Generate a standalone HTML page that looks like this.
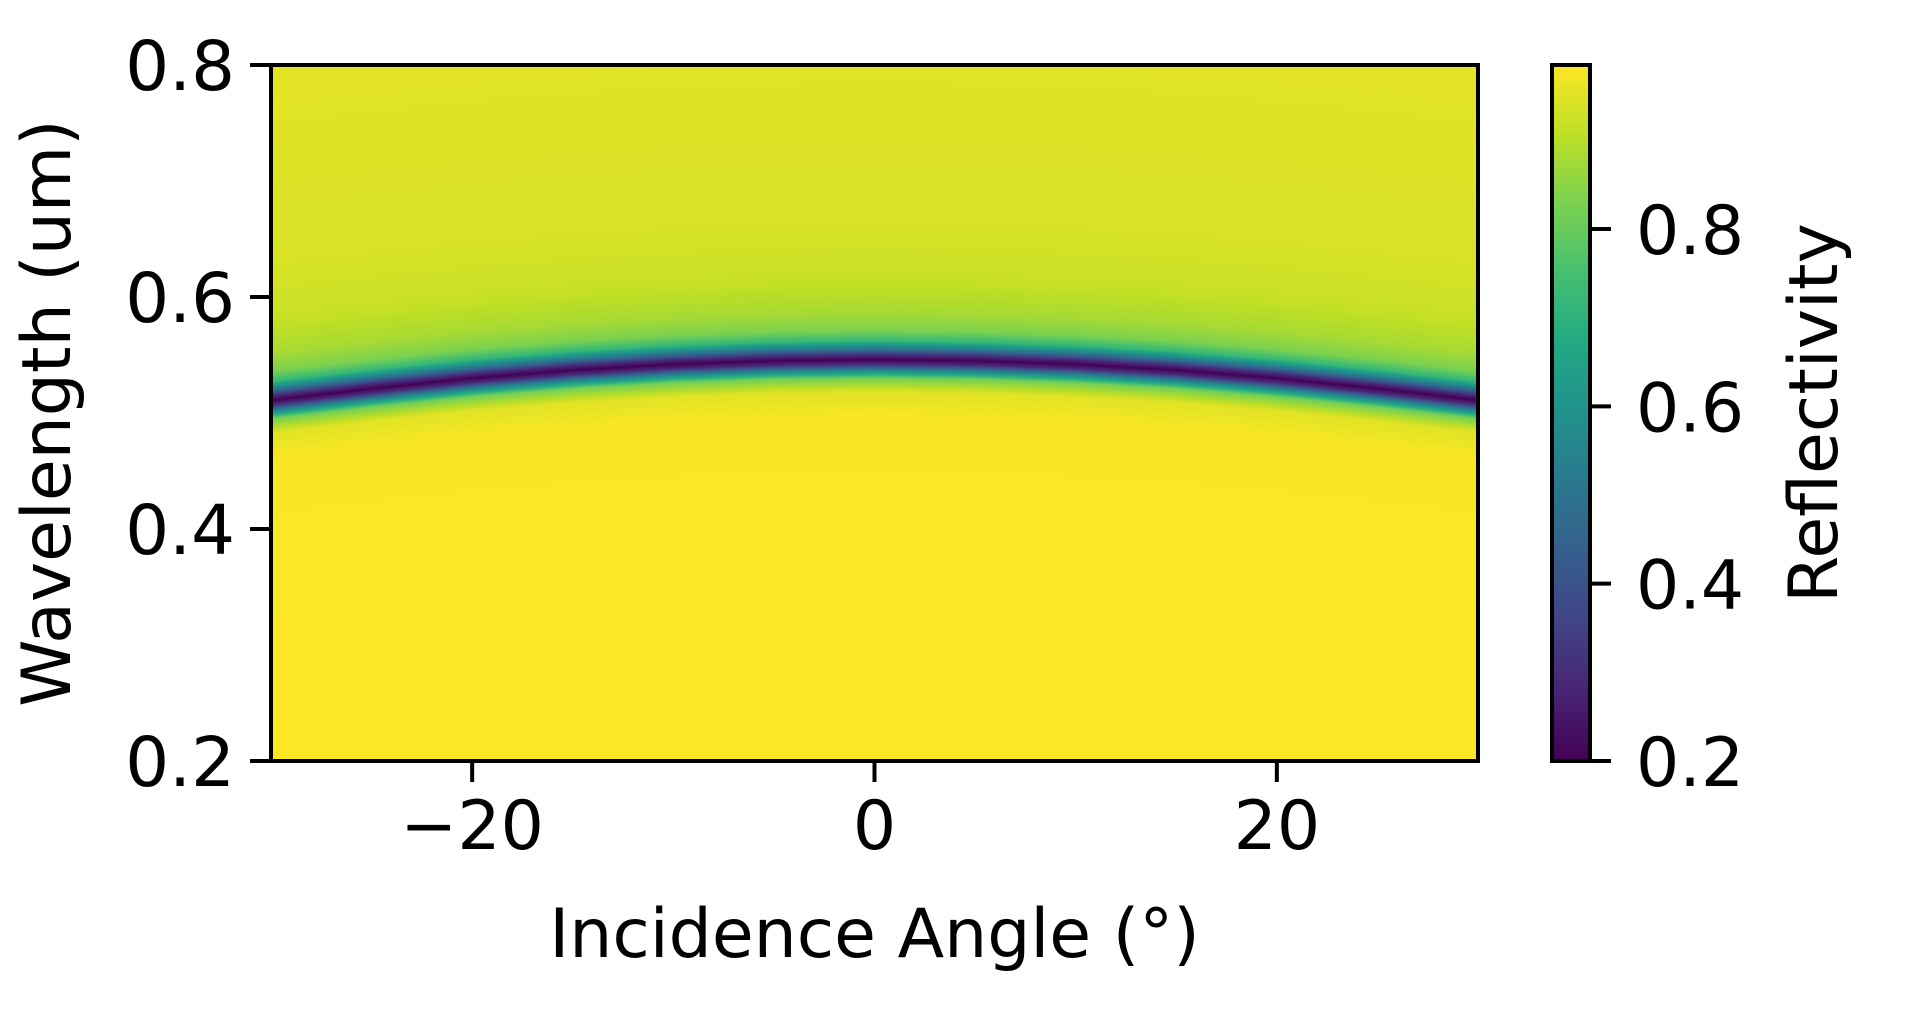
<!DOCTYPE html>
<html><head><meta charset="utf-8"><style>
html,body{margin:0;padding:0;background:#fff;}
#wrap{position:relative;width:1924px;height:1027px;overflow:hidden;font-family:"DejaVu Sans","Liberation Sans",sans-serif;}
canvas{position:absolute;}
svg{position:absolute;left:0;top:0;}
</style></head><body>
<div id="wrap">
<canvas id="heat" width="1207" height="696" style="left:271px;top:65px;width:1207px;height:696px"></canvas>
<canvas id="cbar" width="38" height="696" style="left:1552px;top:65px;width:38px;height:696px"></canvas>
<svg id="ax" width="1924" height="1027"></svg>
</div>
<script>
// ---- data ----
const angles = [-30,-25,-20,-15,-10,-5,0,5,10,15,20,25,30];
const bandCenter = [0.511,0.521,0.530,0.537,0.542,0.545,0.546,0.545,0.542,0.537,0.530,0.521,0.511];
const profileOffset = [-0.4,-0.05,-0.028,-0.016,-0.009,-0.004,0,0.004,0.009,0.016,0.025,0.04,0.07,0.12,0.3];
const profileRefl  = [0.985,0.98,0.95,0.82,0.55,0.3,0.2,0.3,0.5,0.72,0.83,0.88,0.92,0.94,0.955];
const xTicks = [-20,0,20];
const xTickLabels = ["\u221220","0","20"];
const yTicks = [0.2,0.4,0.6,0.8];
const yTickLabels = ["0.2","0.4","0.6","0.8"];
const cTicks = [0.2,0.4,0.6,0.8];
const cTickLabels = ["0.2","0.4","0.6","0.8"];
const xMin=-30,xMax=30,yMin=0.2,yMax=0.8,cMin=0.2,cMax=0.985;
// ---- geometry ----
const L=271,R=1478,T=65,B=761,CL=1552,CR=1590;
const xs=v=>L+(v-xMin)/(xMax-xMin)*(R-L);
const ys=v=>B-(v-yMin)/(yMax-yMin)*(B-T);
const cs=v=>B-(v-cMin)/(cMax-cMin)*(B-T);
const vir=["#440154","#482475","#414487","#355f8d","#2a788e","#21918c","#22a884","#44bf70","#7ad151","#bddf26","#fde725"].map(h=>[1,3,5].map(i=>parseInt(h.substr(i,2),16)));
function cmap(t){t=Math.max(0,Math.min(1,t));const p=t*10,i=Math.min(9,Math.floor(p)),f=p-i;return vir[i].map((c,k)=>Math.round(c+(vir[i+1][k]-c)*f));}
function interp(xa,ya,x){if(x<=xa[0])return ya[0];for(let i=1;i<xa.length;i++){if(x<=xa[i]){const f=(x-xa[i-1])/(xa[i]-xa[i-1]);return ya[i-1]+(ya[i]-ya[i-1])*f;}}return ya[ya.length-1];}
// heatmap
const hc=document.getElementById('heat'),hx=hc.getContext('2d'),W=hc.width,H=hc.height,img=hx.createImageData(W,H);
for(let px=0;px<W;px++){const a=xMin+(px+0.5)/W*(xMax-xMin);
 const c=interp(angles,bandCenter,a);
 for(let py=0;py<H;py++){const lam=yMax-(py+0.5)/H*(yMax-yMin);
  const r=interp(profileOffset,profileRefl,lam-c);
  const col=cmap((r-cMin)/(cMax-cMin));const o=(py*W+px)*4;
  img.data[o]=col[0];img.data[o+1]=col[1];img.data[o+2]=col[2];img.data[o+3]=255;}}
hx.putImageData(img,0,0);
// colorbar
const cc=document.getElementById('cbar'),cx=cc.getContext('2d');
for(let py=0;py<cc.height;py++){const col=cmap(1-(py+0.5)/cc.height);cx.fillStyle=`rgb(${col})`;cx.fillRect(0,py,cc.width,1);}
// axes
const svg=document.getElementById('ax'),NS="http://www.w3.org/2000/svg";
function mk(tag,at,txt){const e=document.createElementNS(NS,tag);for(const k in at)e.setAttribute(k,at[k]);if(txt!==undefined)e.textContent=txt;svg.appendChild(e);return e;}
let e;
e=mk('rect',{x:L,y:T,width:R-L,height:B-T,fill:'none',stroke:'#000','stroke-width':4});


e=mk('rect',{x:CL,y:T,width:CR-CL,height:B-T,fill:'none',stroke:'#000','stroke-width':4});


xTicks.forEach((v,i)=>{const x=xs(v);
 e=mk('line',{x1:x,x2:x,y1:B,y2:B+21,stroke:'#000','stroke-width':4});
 
 
 e=mk('text',{x:x,y:B+88,'text-anchor':'middle','font-size':68},xTickLabels[i]);
 
 });
yTicks.forEach((v,i)=>{const y=ys(v);
 e=mk('line',{x1:L-21,x2:L,y1:y,y2:y,stroke:'#000','stroke-width':4});
 
 
 e=mk('text',{x:L-36,y:y+25,'text-anchor':'end','font-size':69},yTickLabels[i]);
 
 });
cTicks.forEach((v,i)=>{const y=cs(v);
 e=mk('line',{x1:CR,x2:CR+21,y1:y,y2:y,stroke:'#000','stroke-width':4});
 
 
 e=mk('text',{x:CR+46,y:y+25,'font-size':68},cTickLabels[i]);
 
 });
e=mk('text',{x:(L+R)/2,y:957,'text-anchor':'middle','font-size':68},'Incidence Angle (°)');


e=mk('text',{x:0,y:0,'text-anchor':'middle','font-size':68,transform:`translate(70,${(T+B)/2}) rotate(-90)`},'Wavelength (um)');


e=mk('text',{x:0,y:0,'text-anchor':'middle','font-size':68,transform:`translate(1837,${(T+B)/2}) rotate(-90)`},'Reflectivity');


</script>
</body></html>
